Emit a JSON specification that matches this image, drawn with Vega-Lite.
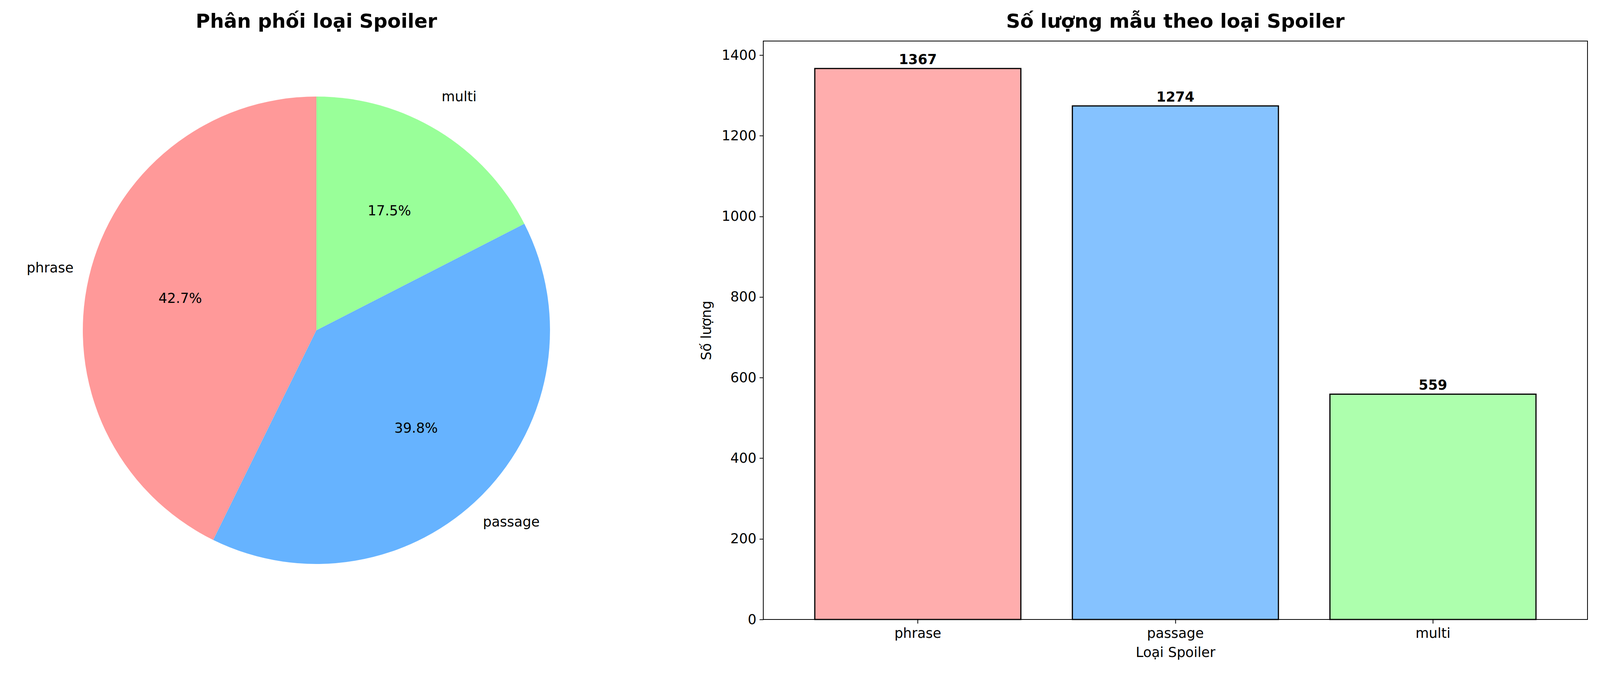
{
  "$schema": "https://vega.github.io/schema/vega-lite/v6.json",
  "background": "white",
  "padding": {"left": 0, "top": 30, "right": 20, "bottom": 10},
  "config": {
    "font": "DejaVu Sans",
    "view": {"stroke": null},
    "title": {"fontSize": 50, "fontWeight": "bold", "color": "black", "offset": 24}
  },
  "resolve": {"scale": {"color": "independent"}},
  "datasets": {
    "d": [
      {"type": "phrase", "count": 1367, "pct": "42.7%", "ord": 3},
      {"type": "passage", "count": 1274, "pct": "39.8%", "ord": 2},
      {"type": "multi", "count": 559, "pct": "17.5%", "ord": 1}
    ]
  },
  "spacing": 170,
  "hconcat": [
    {
      "title": "Phân phối loại Spoiler",
      "width": 1620,
      "height": 1480,
      "data": {"name": "d"},
      "encoding": {
        "theta": {"field": "count", "type": "quantitative", "stack": true},
        "order": {"field": "ord", "type": "quantitative"}
      },
      "layer": [
        {
          "mark": {"type": "arc", "outerRadius": 598},
          "encoding": {
            "color": {"field": "type", "type": "nominal", "legend": null,
              "scale": {"domain": ["phrase", "passage", "multi"], "range": ["#ff9999", "#66b3ff", "#99ff99"]}}
          }
        },
        {
          "mark": {"type": "text", "radius": 358, "fontSize": 35, "color": "black"},
          "encoding": {"text": {"field": "pct"}}
        },
        {
          "mark": {"type": "text", "radius": 700, "fontSize": 35, "color": "black"},
          "encoding": {"text": {"field": "type"}}
        }
      ]
    },
    {
      "title": "Số lượng mẫu theo loại Spoiler",
      "width": 2110,
      "height": 1480,
      "data": {"name": "d"},
      "view": {"stroke": "black", "strokeWidth": 2},
      "encoding": {
        "x": {"field": "type", "type": "nominal", "sort": ["phrase", "passage", "multi"],
          "title": "Loại Spoiler",
          "scale": {"paddingInner": 0.2, "paddingOuter": 0.2},
          "axis": {"labelAngle": 0, "labelFontSize": 35, "titleFontSize": 35, "titleFontWeight": "normal",
            "domain": false, "tickColor": "black", "tickSize": 10, "tickWidth": 2, "labelColor": "black", "titleColor": "black", "labelPadding": 8, "titlePadding": 14}},
        "y": {"field": "count", "type": "quantitative", "title": "Số lượng",
          "scale": {"domain": [0, 1435], "nice": false},
          "axis": {"values": [0, 200, 400, 600, 800, 1000, 1200, 1400], "format": "d", "grid": false, "labelFontSize": 35, "titleFontSize": 35,
            "titleFontWeight": "normal", "domain": false, "tickColor": "black", "tickSize": 10, "tickWidth": 2,
            "labelColor": "black", "titleColor": "black", "labelPadding": 8, "titlePadding": 20}}
      },
      "layer": [
        {
          "mark": {"type": "bar", "stroke": "black", "strokeWidth": 3},
          "encoding": {
            "color": {"field": "type", "type": "nominal", "legend": null,
              "scale": {"domain": ["phrase", "passage", "multi"], "range": ["#ffadad", "#85c2ff", "#adffad"]}}
          }
        },
        {
          "mark": {"type": "text", "dy": -22, "fontSize": 35, "fontWeight": "bold", "color": "black"},
          "encoding": {"text": {"field": "count", "type": "quantitative"}}
        }
      ]
    }
  ]
}
